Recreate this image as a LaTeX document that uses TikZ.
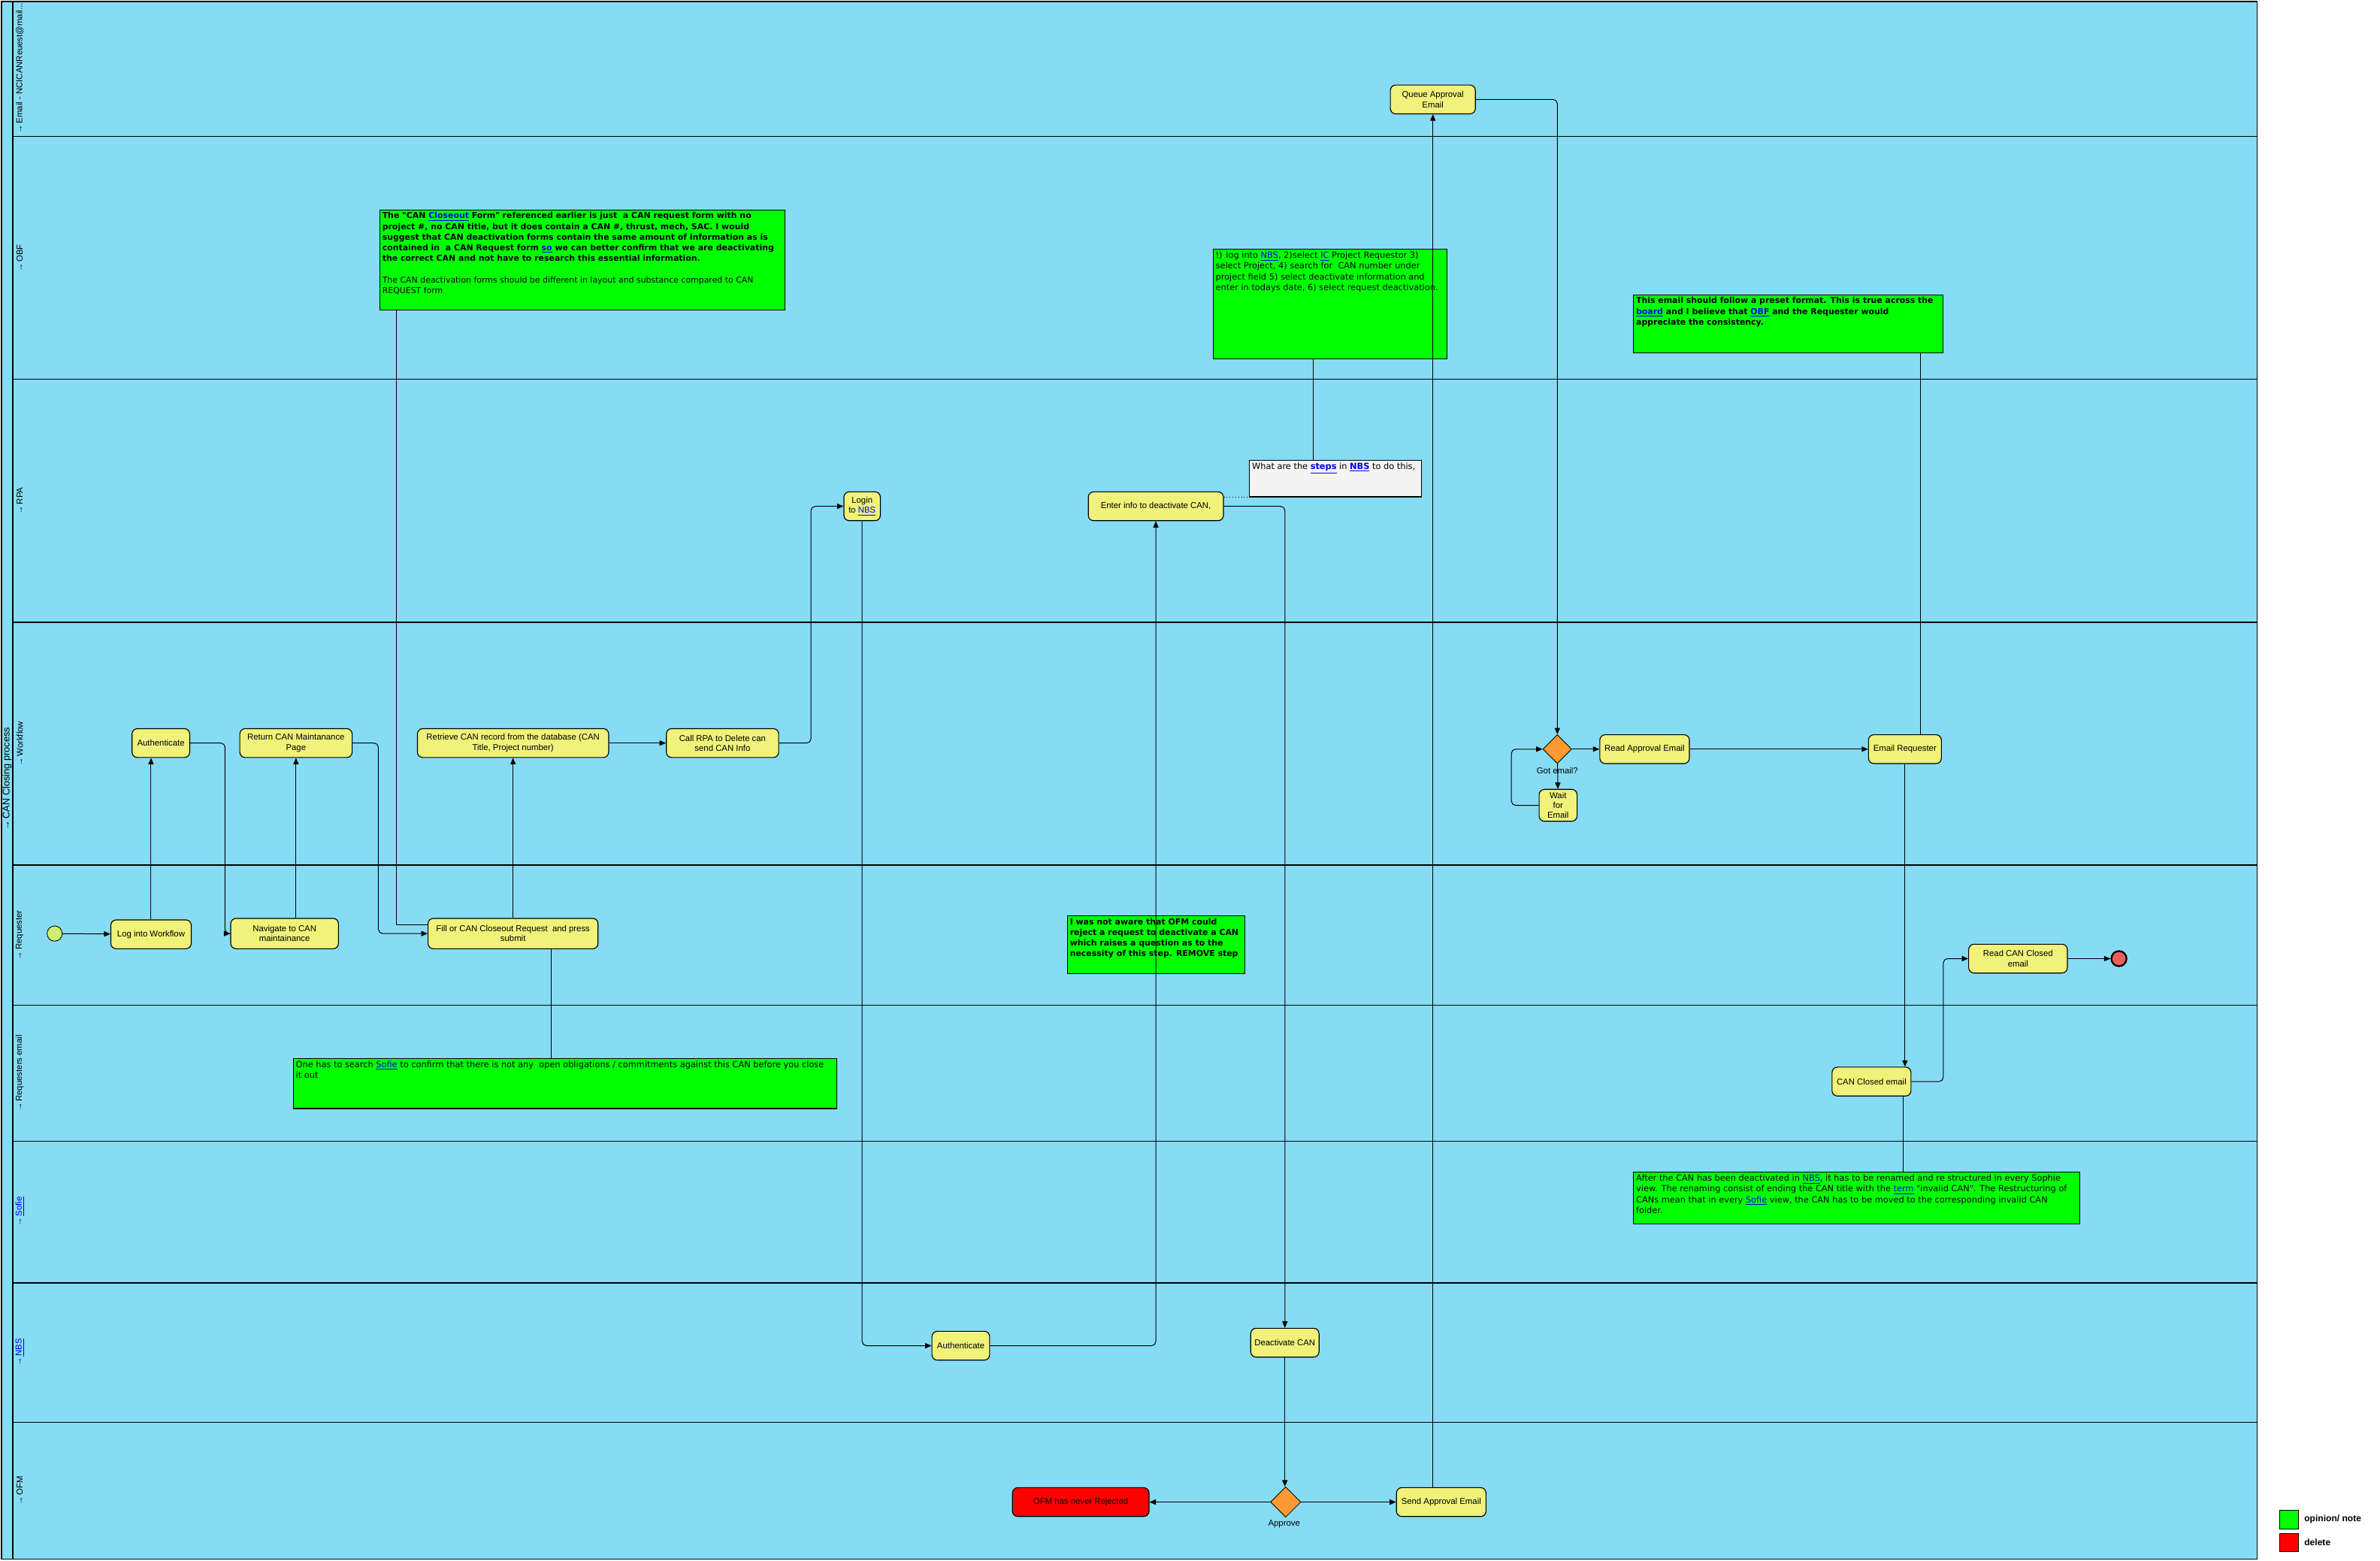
\documentclass[tikz,border=0pt]{standalone}
\usepackage{fontspec}
\setmainfont{Liberation Sans}
\newfontfamily\notefont{DejaVu Sans}
\usetikzlibrary{arrows.meta,shapes.geometric}
\definecolor{cLane} {RGB}{134,220,244}
\definecolor{cAct}  {RGB}{240,242,122}
\definecolor{cDec}  {RGB}{255,153,51}
\definecolor{cNote} {RGB}{0,255,0}
\definecolor{cDel}  {RGB}{255,0,0}
\definecolor{cCmt}  {RGB}{244,244,244}
\definecolor{cStart}{RGB}{205,240,110}
\definecolor{cStop} {RGB}{238,92,92}
\definecolor{cLink} {RGB}{0,0,240}
\newcommand{\ulink}[1]{\textcolor{cLink}{\underline{#1}}}
\newcommand{\laneicon}{\textbf{→}\,}

\begin{document}
\begin{tikzpicture}[x=0.05cm,y=-0.05cm,
  >={Triangle[length=6pt,width=5pt]},
  act/.style={draw,fill=cAct,line width=0.8pt,rounded corners=5pt,align=center,
              inner sep=1pt,minimum height=0.95cm,font=\fontsize{8}{9.4}\selectfont},
  dec/.style={diamond,draw,fill=cDec,line width=0.6pt,inner sep=0pt,
              minimum width=0.95cm,minimum height=0.95cm},
  notebox/.style={draw,fill=cNote,line width=0.8pt,anchor=north west,inner sep=0pt},
  notetxt/.style={anchor=north west,align=left,inner sep=2.5pt,font=\notefont\fontsize{8}{10}\selectfont},
  bnotetxt/.style={notetxt,font=\notefont\fontsize{7.7}{10}\selectfont\bfseries},
  lane/.style={rotate=90,inner sep=0pt,font=\fontsize{8}{9}\selectfont},
  lbl/.style={inner sep=0pt,font=\fontsize{8}{9}\selectfont},
  arr/.style={->,line width=0.7pt,rounded corners=4pt},
  lead/.style={line width=0.7pt},
  lanesep/.style={line width=0.7pt},
  poolsep/.style={line width=1.4pt},
]

% ------------------------------------------------------------------ canvas
\fill[white] (0,0) rectangle (1568,1028);
\useasboundingbox (0,0) rectangle (1568,1028);

% ------------------------------------------------------------------ pool and lanes
\fill[cLane] (1,1) rectangle (1487,1027);
\draw[line width=1pt] (1,1) rectangle (1487,1027);
\draw[poolsep] (8.5,1) -- (8.5,1027);
\foreach \y in {90,250,662,752,937}
  \draw[lanesep] (8.5,\y) -- (1487,\y);
\foreach \y in {410,570,845}
  \draw[poolsep] (8.5,\y) -- (1487,\y);

\node[lane,font=\fontsize{9}{10}\selectfont] (pool) at (4.6,513) {\laneicon CAN Closing process};
\node[lane] (lEmail) at (13,45)  {\laneicon Email - NCICANReuest@mail...};
\node[lane] (lObf)   at (13,170) {\laneicon OBF};
\node[lane] (lRpa)   at (13,330) {\laneicon RPA};
\node[lane] (lWf)    at (13,490) {\laneicon Workflow};
\node[lane] (lReq)   at (13,616) {\laneicon Requester};
\node[lane] (lReqm)  at (13,707) {\laneicon Requesters email};
\node[lane] (lSofie) at (13,798) {\laneicon \ulink{Sofie}};
\node[lane] (lNbs)   at (13,891) {\laneicon \ulink{NBS}};
\node[lane] (lOfm)   at (13,982) {\laneicon OFM};

% ------------------------------------------------------------------ activities
\node[act,minimum width=2.8cm]  (qae)     at (944,65.5)    {Queue Approval\\Email};
\node[act,minimum width=1.2cm]  (login)   at (568,333.5)   {Login\\to \ulink{NBS}};
\node[act,minimum width=4.45cm] (enter)   at (761.5,333.5) {Enter info to deactivate CAN,};
\node[act,minimum width=1.9cm]  (authwf)  at (106,489.5)   {Authenticate};
\node[act,minimum width=3.7cm]  (ret)     at (195,489.5)   {Return CAN Maintanance\\Page};
\node[act,minimum width=6.3cm]  (retr)    at (338,489.5)   {Retrieve CAN record from the database (CAN\\Title, Project number)};
\node[act,minimum width=3.7cm]  (call)    at (476,489.5)   {Call RPA to Delete can\\send CAN Info};
\node[dec]                      (gm)      at (1026,493.5)  {};
\node[lbl]                      (gmL)     at (1026,507.5)  {Got email?};
\node[act,minimum width=1.25cm,minimum height=1.05cm] (wait) at (1026.5,530.5) {Wait\\for\\Email};
\node[act,minimum width=2.95cm] (rae)     at (1083.5,493.5) {Read Approval Email};
\node[act,minimum width=2.4cm]  (ereq)    at (1255,493.5)  {Email Requester};

\node[circle,draw,fill=cStart,line width=0.6pt,minimum size=0.5cm,inner sep=0pt] (start) at (36,615) {};
\node[act,minimum width=2.65cm] (liw)     at (99.5,615.5)  {Log into Workflow};
\node[act,minimum width=3.55cm,minimum height=1cm] (nav) at (187.5,615) {Navigate to CAN\\maintainance};
\node[act,minimum width=5.6cm,minimum height=1cm] (fillreq) at (338,615) {Fill or CAN Closeout Request \ and press\\submit};
\node[act,minimum width=3.25cm] (rcce)    at (1329.5,631.5) {Read CAN Closed\\email};
\node[circle,draw,fill=cStop,line width=1.6pt,minimum size=0.5cm,inner sep=0pt] (stop) at (1396,631.5) {};

\node[act,minimum width=2.6cm]  (cce)     at (1233,712.5)  {CAN Closed email};
\node[act,minimum width=1.9cm]  (authnbs) at (633,886.5)   {Authenticate};
\node[act,minimum width=2.25cm] (deact)   at (846.5,884.5) {Deactivate CAN};

\node[act,fill=cDel,minimum width=4.5cm] (rej) at (712,989.5) {OFM has never Rejected};
\node[dec,minimum width=1cm,minimum height=1cm] (appr) at (847,989.5) {};
\node[lbl]                      (apprL)   at (846,1004)    {Approve};
\node[act,minimum width=2.95cm] (sae)     at (949.5,989.5) {Send Approval Email};

% ------------------------------------------------------------------ notes
\node[notebox,minimum width=13.35cm,minimum height=3.3cm] (n1) at (250,138) {};
\node[bnotetxt] (n1t) at (n1.north west)
  {The "CAN \ulink{Closeout} Form" referenced earlier is just \ a CAN request form with no\\
   project \#, no CAN title, but it does contain a CAN \#, thrust, mech, SAC. I would\\
   suggest that CAN deactivation forms contain the same amount of information as is\\
   contained in \ a CAN Request form \ulink{so} we can better confirm that we are deactivating\\
   the correct CAN and not have to research this essential information.\\[10pt]
   \mdseries The CAN deactivation forms should be different in layout and substance compared to CAN\\
   \mdseries REQUEST form};

\node[notebox,minimum width=7.7cm,minimum height=3.6cm] (n2) at (799,164) {};
\node[notetxt] (n2t) at (n2.north west)
  {!) log into \ulink{NBS}, 2)select \ulink{IC} Project Requestor 3)\\
   select Project, 4) search for \ CAN number under\\
   project field 5) select deactivate information and\\
   enter in todays date, 6) select request deactivation.};

\node[notebox,fill=cCmt,minimum width=5.65cm,minimum height=1.2cm] (cmt) at (823,303) {};
\node[notetxt] (cmtt) at (cmt.north west)
  {What are the \ulink{\textbf{steps}} in \ulink{\textbf{NBS}} to do this,};

\node[notebox,minimum width=10.2cm,minimum height=1.9cm] (n3) at (1076,194) {};
\node[bnotetxt] (n3t) at (n3.north west)
  {This email should follow a preset format. This is true across the\\
   \ulink{board} and I believe that \ulink{OBF} and the Requester would\\
   appreciate the consistency.};

\node[notebox,minimum width=5.85cm,minimum height=1.9cm] (n4) at (703,603) {};
\node[bnotetxt] (n4t) at (n4.north west)
  {I was not aware that OFM could\\
   reject a request to deactivate a CAN\\
   which raises a question as to the\\
   necessity of this step. REMOVE step};

\node[notebox,minimum width=17.9cm,minimum height=1.65cm] (n5) at (193,697) {};
\node[notetxt] (n5t) at (n5.north west)
  {One has to search \ulink{Sofie} to confirm that there is not any \ open obligations / commitments against this CAN before you close\\
   it out};

\node[notebox,minimum width=14.7cm,minimum height=1.7cm] (n6) at (1076,772) {};
\node[notetxt] (n6t) at (n6.north west)
  {After the CAN has been deactivated in \ulink{NBS}, it has to be renamed and re structured in every Sophie\\
   view. The renaming consist of ending the CAN title with the \ulink{term} "invalid CAN". The Restructuring of\\
   CANs mean that in every \ulink{Sofie} view, the CAN has to be moved to the corresponding invalid CAN\\
   folder.};

% ------------------------------------------------------------------ note leads
\coordinate (j1) at (261,0);
\coordinate (j2) at (865,0);
\coordinate (j3) at (1265,0);
\coordinate (j5) at (363,0);
\coordinate (j6) at (1254,0);
\draw[lead] (n1.south -| j1) |- ([yshift=8.5pt]fillreq.west);
\draw[lead] (n2.south -| j2) -- (cmt.north -| j2);
\draw[lead,dotted] (enter.east |- cmt.south west) -- (cmt.south west);
\draw[lead] (n3.south -| j3) -- (ereq.north -| j3);
\draw[lead] (fillreq.south -| j5) -- (n5.north -| j5);
\draw[lead] (cce.south -| j6) -- (n6.north -| j6);

% ------------------------------------------------------------------ flow
\draw[arr] (start) -- (liw);
\draw[arr] (liw.north) -- (liw.north |- authwf.south);
\draw[arr] (authwf.east) -- ++(23,0) |- (nav.west);
\draw[arr] (nav.north -| ret.south) -- (ret.south);
\draw[arr] (ret.east) -- ++(17,0) |- (fillreq.west);
\draw[arr] (fillreq.north) -- (retr.south);
\draw[arr] (retr) -- (call);
\draw[arr] (call.east) -- ++(21,0) |- (login.west);
\draw[arr] (login.south) |- (authnbs.west);
\draw[arr] (authnbs.east) -| (enter.south);
\draw[arr] (enter.east) -| (deact.north);
\draw[arr] (deact.south) -- (deact.south |- appr.north);
\draw[arr] (appr) -- (rej);
\draw[arr] (appr) -- (sae);
\draw[arr] (qae.south |- sae.north) -- (qae.south);
\draw[arr] (qae.east) -| (gm.north);
\draw[arr] (gm) -- (rae);
\draw[arr] (gm) -- (wait);
\draw[arr] (wait.west) -- ++(-18,0) |- (gm.west);
\draw[arr] (rae) -- (ereq);
\draw[arr] (ereq.south) -- (ereq.south |- cce.north);
\draw[arr] (cce.east) -- ++(21,0) |- (rcce.west);
\draw[arr] (rcce) -- (stop);

% ------------------------------------------------------------------ legend
\node[draw,fill=cNote,line width=0.6pt,minimum size=0.6cm,inner sep=0pt] (lgNote) at (1508,1001) {};
\node[lbl,anchor=west,font=\fontsize{8.5}{10}\selectfont\bfseries] (lgNoteT) at (1518,1001) {opinion/ note};
\node[draw,fill=cDel,line width=0.6pt,minimum size=0.6cm,inner sep=0pt] (lgDel) at (1508,1016) {};
\node[lbl,anchor=west,font=\fontsize{8.5}{10}\selectfont\bfseries] (lgDelT) at (1518,1016) {delete};

\end{tikzpicture}
\end{document}
